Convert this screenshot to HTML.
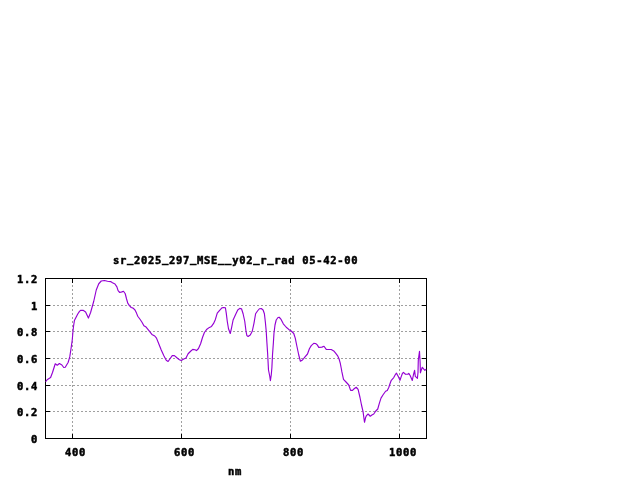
<!DOCTYPE html>
<html><head><meta charset="utf-8"><title>sr_2025_297_MSE__y02_r_rad 05-42-00</title>
<style>
html,body{margin:0;padding:0;background:#fff;width:640px;height:480px;overflow:hidden}
svg{position:absolute;left:0;top:0;display:block}
.ax{shape-rendering:crispEdges}
.tx{font-family:"DejaVu Sans Mono", "Liberation Mono", monospace;font-size:10.5px;font-weight:bold;fill:#000;white-space:pre;letter-spacing:0.679px;stroke:#000;stroke-width:0.5px;stroke-linejoin:miter}
</style></head><body>
<svg width="640" height="480" viewBox="0 0 640 480">
<rect width="640" height="480" fill="#fff"/>
<g class="ax">
<line x1="45" y1="305.5" x2="427" y2="305.5" stroke="#a0a0a0" stroke-dasharray="2 2"/>
<line x1="45" y1="331.5" x2="427" y2="331.5" stroke="#a0a0a0" stroke-dasharray="2 2"/>
<line x1="45" y1="358.5" x2="427" y2="358.5" stroke="#a0a0a0" stroke-dasharray="2 2"/>
<line x1="45" y1="385.5" x2="427" y2="385.5" stroke="#a0a0a0" stroke-dasharray="2 2"/>
<line x1="45" y1="411.5" x2="427" y2="411.5" stroke="#a0a0a0" stroke-dasharray="2 2"/>
<line x1="72.5" y1="278" x2="72.5" y2="439" stroke="#a0a0a0" stroke-dasharray="2 2" stroke-dashoffset="1"/>
<line x1="181.5" y1="278" x2="181.5" y2="439" stroke="#a0a0a0" stroke-dasharray="2 2" stroke-dashoffset="1"/>
<line x1="290.5" y1="278" x2="290.5" y2="439" stroke="#a0a0a0" stroke-dasharray="2 2" stroke-dashoffset="1"/>
<line x1="399.5" y1="278" x2="399.5" y2="439" stroke="#a0a0a0" stroke-dasharray="2 2" stroke-dashoffset="1"/>
<line x1="45" y1="278.5" x2="50" y2="278.5" stroke="#000"/>
<line x1="422" y1="278.5" x2="427" y2="278.5" stroke="#000"/>
<line x1="45" y1="305.5" x2="50" y2="305.5" stroke="#000"/>
<line x1="422" y1="305.5" x2="427" y2="305.5" stroke="#000"/>
<line x1="45" y1="331.5" x2="50" y2="331.5" stroke="#000"/>
<line x1="422" y1="331.5" x2="427" y2="331.5" stroke="#000"/>
<line x1="45" y1="358.5" x2="50" y2="358.5" stroke="#000"/>
<line x1="422" y1="358.5" x2="427" y2="358.5" stroke="#000"/>
<line x1="45" y1="385.5" x2="50" y2="385.5" stroke="#000"/>
<line x1="422" y1="385.5" x2="427" y2="385.5" stroke="#000"/>
<line x1="45" y1="411.5" x2="50" y2="411.5" stroke="#000"/>
<line x1="422" y1="411.5" x2="427" y2="411.5" stroke="#000"/>
<line x1="45" y1="438.5" x2="50" y2="438.5" stroke="#000"/>
<line x1="422" y1="438.5" x2="427" y2="438.5" stroke="#000"/>
<line x1="72.5" y1="278" x2="72.5" y2="283" stroke="#000"/>
<line x1="72.5" y1="434" x2="72.5" y2="439" stroke="#000"/>
<line x1="181.5" y1="278" x2="181.5" y2="283" stroke="#000"/>
<line x1="181.5" y1="434" x2="181.5" y2="439" stroke="#000"/>
<line x1="290.5" y1="278" x2="290.5" y2="283" stroke="#000"/>
<line x1="290.5" y1="434" x2="290.5" y2="439" stroke="#000"/>
<line x1="399.5" y1="278" x2="399.5" y2="283" stroke="#000"/>
<line x1="399.5" y1="434" x2="399.5" y2="439" stroke="#000"/>
<rect x="45.5" y="278.5" width="381" height="160" fill="none" stroke="#000"/>
</g>
<polyline fill="none" stroke="#9400d3" stroke-width="1.15" stroke-linejoin="round" points="45.5,381.6 46,381.25 47.5,379.4 50.6,377.5 52.5,372.5 55.25,363.75 57.25,365.25 59.4,363.5 61.9,365 63.75,367.5 65.25,367.25 68.1,362.5 69.75,356.9 71,348.75 72.25,340 73,331 73.5,326.5 74.4,320.6 76.2,316.9 77.75,314 79.3,311.6 80.5,310.4 83.1,310.25 85.6,311.9 88.4,318.1 90.6,312.5 93.75,301.25 96.25,290 98.75,283.75 101.25,281 104.4,280.5 107.5,281.25 110.6,281.6 112.5,282.75 115,284 116.9,286.9 118.1,290.6 119.75,292.5 121.9,291.9 123.5,291.25 125.25,293.75 126.5,298.75 127.75,303.1 129.4,305.6 131.25,307.5 133.1,308.1 135,310 136.5,313.1 137.75,316.25 140,319.25 142,322.2 143.9,325.8 146.1,327.1 148.75,330.3 151.9,334.4 154.75,336 156.5,338.1 158.75,343.75 161.25,350 163.75,355.6 166.25,360.25 168.1,361.5 170,358.75 172.25,355.6 174.4,355.6 176.9,357.75 179.4,359.75 181.25,360.6 183.75,359 186,358.1 188.1,353.75 190.6,351.25 192.75,349.4 195,349.75 196.5,350.6 198.5,348.5 200.6,343.75 202.5,337.5 204.4,332.5 206.9,329.2 209.4,327.4 211.5,326.4 213.6,323.4 215.4,319.4 217.25,313.1 219.4,310.6 221.9,307.9 223.75,307.5 225.4,307.75 226.25,313.1 227.25,321.25 228.5,328.75 230.25,333.5 231.5,328.1 233.1,320 235.6,314.4 237.75,310 239.75,308.4 241.5,308.75 243.1,313.75 244.75,321.25 246,331.25 246.9,335.6 248.1,336.5 250.25,335 252.25,331.25 254,323.1 255.6,313.75 257.5,311 259.4,308.75 261.25,308.5 263.1,310 264.4,313.75 265.4,322.5 266.2,331 266.9,342.5 267.6,353 268.5,370 269.75,376.25 270.4,380.6 271.25,375 271.9,367.5 272.5,355 273.4,342.5 274,333 275,325 276.2,320 278,317.5 279.2,317.25 281.1,319.4 283.3,323.8 286.25,327.25 288.75,329.4 291.25,331 293.75,333.5 295.25,338.1 296.9,346.25 298.75,355 300.4,361.25 302.5,360 305,356.9 307.5,354 309.4,348.75 311.25,345.6 313.75,343.4 315.6,343.5 317.25,344.9 318.75,347.4 321.9,347.1 324,346.25 326.25,349.4 328.75,349.5 331.25,349.5 333.75,350.9 335.6,353.1 337.5,355.6 339,358.75 340.25,363.1 341.2,368 341.9,371.9 343.5,379.4 346.25,382.25 348.75,385 350.6,390.4 352.5,390.4 354.4,388.5 356.25,387.25 358.1,389.4 360,397.5 361.5,405 363.1,411.9 364,418.75 364.5,422.25 365.6,417.5 366.5,415.6 368.1,414 370.25,416.25 371.9,415 373.75,414 375.6,411.25 377.75,409 379.4,403.1 381,398.1 383.1,394.75 385.6,391.25 387.25,390.4 388.75,387.5 390.25,383 391.3,380.3 393.75,377.6 395.25,374.75 396.4,373.1 398.3,376.5 400,380.3 401.3,376.4 402.3,373.7 403.4,372.4 405.5,374.3 407.8,374.2 408.75,373.4 410.15,375.5 412.3,380.4 413.4,375 414.6,370.3 415.3,376.4 417.4,378.3 418.0,372.5 418.3,360 419.5,351.4 420.1,362 420.4,372.8 421.2,370.3 422.3,367.3 423.6,368.9 424.9,370.3 426.1,369.2"/>
<g class="tx">
<text x="38" y="283" text-anchor="end">1.2</text>
<text x="38" y="310" text-anchor="end">1</text>
<text x="38" y="336" text-anchor="end">0.8</text>
<text x="38" y="363" text-anchor="end">0.6</text>
<text x="38" y="390" text-anchor="end">0.4</text>
<text x="38" y="416" text-anchor="end">0.2</text>
<text x="38" y="443" text-anchor="end">0</text>
<text x="65" y="456" text-anchor="start">400</text>
<text x="174" y="456" text-anchor="start">600</text>
<text x="283" y="456" text-anchor="start">800</text>
<text x="389" y="456" text-anchor="start">1000</text>
<text x="113" y="264" text-anchor="start">sr<tspan dy="-2.1">_</tspan><tspan dy="2.1">2025</tspan><tspan dy="-2.1">_</tspan><tspan dy="2.1">297</tspan><tspan dy="-2.1">_</tspan><tspan dy="2.1">MSE</tspan><tspan dy="-2.1">__</tspan><tspan dy="2.1">y02</tspan><tspan dy="-2.1">_</tspan><tspan dy="2.1">r</tspan><tspan dy="-2.1">_</tspan><tspan dy="2.1">rad 05-42-00</tspan></text>
<text x="228" y="475" text-anchor="start">nm</text>
</g>
</svg>
</body></html>
